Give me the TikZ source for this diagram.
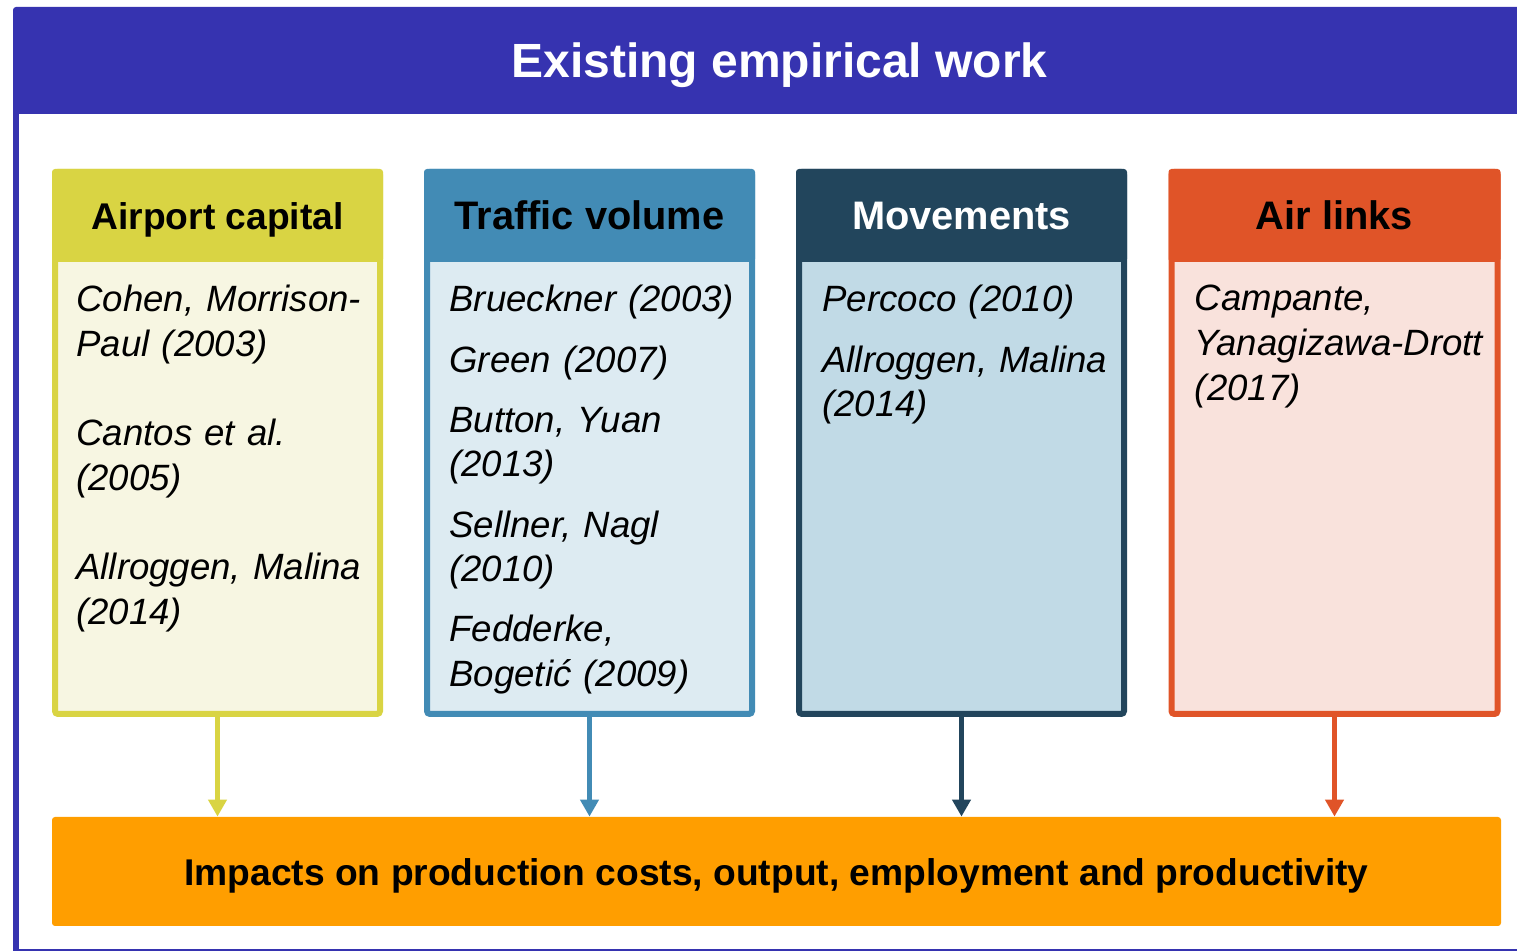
\documentclass[tikz,border=0pt]{standalone}
\usepackage{fontspec}
\setmainfont{Liberation Sans}
\usepackage{xcolor}
\usetikzlibrary{arrows.meta,positioning}

\definecolor{bannerblue}{RGB}{54,51,176}
\definecolor{capyellow}{RGB}{217,212,67}
\definecolor{capyellowbg}{RGB}{247,246,226}
\definecolor{trafficblue}{RGB}{66,139,181}
\definecolor{trafficbluebg}{RGB}{221,235,242}
\definecolor{movenavy}{RGB}{34,69,92}
\definecolor{movenavybg}{RGB}{193,218,230}
\definecolor{linkred}{RGB}{224,84,40}
\definecolor{linkredbg}{RGB}{249,226,220}
\definecolor{impactorange}{RGB}{255,158,0}

\tikzset{
  banner/.style={
    fill=bannerblue,
    text=white,
    rounded corners=1.5pt,
    minimum width=766.5pt,
    minimum height=53.5pt,
    text height=19pt,
    text depth=1.5pt,
    inner sep=0pt,
    font=\bfseries\fontsize{24}{29}\selectfont
  },
  card/.style={
    draw=#1,
    line width=3pt,
    rounded corners=1.5pt,
    minimum width=162.5pt,
    minimum height=271pt,
    inner sep=0pt
  },
  head/.style={
    fill=#1,
    anchor=north,
    rounded corners=1.5pt,
    minimum width=165.5pt,
    minimum height=46.5pt,
    text height=16pt,
    text depth=1.5pt,
    inner sep=0pt,
    outer sep=0pt,
    font=\bfseries\fontsize{19.9}{23}\selectfont
  },
  refs/.style={
    anchor=north west,
    align=left,
    text width=156pt,
    inner sep=0pt,
    font=\itshape\frenchspacing\fontsize{18.3}{22.3}\selectfont
  },
  outcome/.style={
    fill=impactorange,
    rounded corners=1.5pt,
    minimum width=724.5pt,
    minimum height=54.5pt,
    text height=16pt,
    text depth=1.5pt,
    inner sep=0pt,
    font=\bfseries\fontsize{18.6}{22}\selectfont
  },
  feed/.style={draw=#1, line width=2.5pt, -{Triangle[width=9pt,length=8.5pt]}}
}

\begin{document}
\begin{tikzpicture}[x=0.5pt, y=-0.5pt, node distance=20.5pt]
  \useasboundingbox (0,0) rectangle (1517,951);

  % outer panel and its title band
  \draw[bannerblue, line width=3pt] (16,100) |- (1560,952);
  \node[banner] (title) at (779.5,60.5) {Existing empirical work};

  % the four strands of literature
  \node[card=capyellow, fill=capyellowbg] (capital) at (217.5,443) {};
  \node[card=trafficblue, fill=trafficbluebg, right=of capital] (traffic) {};
  \node[card=movenavy, fill=movenavybg, right=of traffic] (movements) {};
  \node[card=linkred, fill=linkredbg, right=20.75pt of movements, minimum width=163pt] (links) {};

  \node[head=capyellow, font=\bfseries\fontsize{18.6}{22}\selectfont] (capital head) at (capital.north) {Airport capital};
  \node[head=trafficblue] (traffic head) at (traffic.north) {Traffic volume};
  \node[head=movenavy, text=white] (movements head) at (movements.north) {Movements};
  \node[head=linkred, minimum width=166pt] (links head) at (links.north) {Air links};

  \node[refs] (capital refs) at ([xshift=12pt,yshift=-11.5pt]capital head.south west)
    {Cohen, Morrison-\\Paul (2003)\\[22.3pt]Cantos et al.\\(2005)\\[22.3pt]Allroggen, Malina\\(2014)};
  \node[refs] (traffic refs) at ([xshift=12.5pt,yshift=-11.5pt]traffic head.south west)
    {Brueckner (2003)\\[7.8pt]Green (2007)\\[7.8pt]Button, Yuan\\(2013)\\[7.8pt]Sellner, Nagl\\(2010)\\[7.8pt]Fedderke,\\Bogetić (2009)};
  \node[refs] (movements refs) at ([xshift=13pt,yshift=-11.5pt]movements head.south west)
    {Percoco (2010)\\[7.8pt]Allroggen, Malina\\(2014)};
  \node[refs] (links refs) at ([xshift=13pt,yshift=-11.5pt]links head.south west)
    {Campante,\\Yanagizawa-Drott\\(2017)};

  % common outcome
  \node[outcome] (impacts) at (776.5,871.5)
    {Impacts on production costs, output, employment and productivity};

  \draw[feed=capyellow] (capital.south) -- (capital.south |- impacts.north);
  \draw[feed=trafficblue] (traffic.south) -- (traffic.south |- impacts.north);
  \draw[feed=movenavy] (movements.south) -- (movements.south |- impacts.north);
  \draw[feed=linkred] (links.south) -- (links.south |- impacts.north);
\end{tikzpicture}
\end{document}
